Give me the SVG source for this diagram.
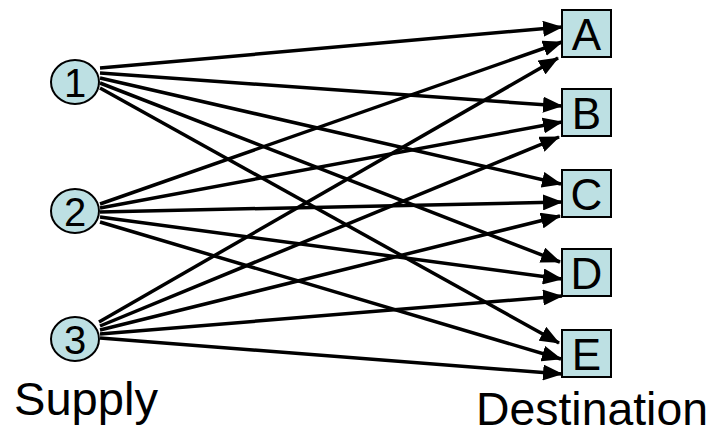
<svg xmlns="http://www.w3.org/2000/svg" width="716" height="430" viewBox="0 0 716 430">
<style>
.node{fill:#bde0e3;stroke:#000;stroke-width:2}
.lbl{font-family:"Liberation Sans",Arial,sans-serif;fill:#000;text-anchor:middle}
.edge{stroke:#000;stroke-width:3.5;fill:none;marker-end:url(#ah)}
.cap{font-family:"Liberation Sans",Arial,sans-serif;font-size:46px;fill:#000}
</style>
<defs>
<marker id="ah" markerUnits="userSpaceOnUse" markerWidth="20" markerHeight="16" refX="19" refY="8" orient="auto" viewBox="0 0 20 16">
<path d="M0,0 L20,8 L0,16 z" fill="#000"/>
</marker>
</defs>
<rect width="716" height="430" fill="#fff"/>
<g id="connectors">
<line class="edge" x1="100" y1="68" x2="562" y2="27"/>
<line class="edge" x1="100" y1="73" x2="562" y2="106"/>
<line class="edge" x1="100" y1="78" x2="561" y2="184"/>
<line class="edge" x1="100" y1="83" x2="560" y2="262"/>
<line class="edge" x1="100" y1="88" x2="559" y2="343"/>
<line class="edge" x1="100" y1="204" x2="562" y2="42"/>
<line class="edge" x1="100" y1="208" x2="562" y2="122"/>
<line class="edge" x1="100" y1="212" x2="562" y2="202"/>
<line class="edge" x1="100" y1="217" x2="562" y2="279"/>
<line class="edge" x1="100" y1="222" x2="561" y2="359"/>
<line class="edge" x1="99" y1="322" x2="558" y2="58"/>
<line class="edge" x1="100" y1="326" x2="559" y2="137"/>
<line class="edge" x1="100" y1="330" x2="560" y2="216"/>
<line class="edge" x1="100" y1="334" x2="562" y2="296"/>
<line class="edge" x1="100" y1="338" x2="562" y2="374"/>
</g>
<g id="s1"><ellipse class="node" cx="75" cy="82" rx="24" ry="22"/><text class="lbl" x="75" y="97" font-size="40">1</text></g>
<g id="s2"><ellipse class="node" cx="75" cy="211" rx="24" ry="22"/><text class="lbl" x="75" y="226" font-size="40">2</text></g>
<g id="s3"><ellipse class="node" cx="75" cy="339" rx="24" ry="22"/><text class="lbl" x="75" y="354" font-size="40">3</text></g>
<g id="dA"><rect class="node" x="562" y="10" width="49" height="47"/><text class="lbl" x="586.5" y="50" font-size="44">A</text></g>
<g id="dB"><rect class="node" x="562" y="89" width="49" height="47"/><text class="lbl" x="586.5" y="129" font-size="44">B</text></g>
<g id="dC"><rect class="node" x="562" y="170" width="49" height="47"/><text class="lbl" x="586.5" y="210" font-size="44">C</text></g>
<g id="dD"><rect class="node" x="562" y="249" width="49" height="47"/><text class="lbl" x="586.5" y="289" font-size="44">D</text></g>
<g id="dE"><rect class="node" x="562" y="330" width="49" height="47"/><text class="lbl" x="586.5" y="370" font-size="44">E</text></g>
<text class="cap" x="14" y="415" textLength="144" lengthAdjust="spacingAndGlyphs">Supply</text>
<text class="cap" x="476" y="425" textLength="232" lengthAdjust="spacingAndGlyphs">Destination</text>
</svg>
